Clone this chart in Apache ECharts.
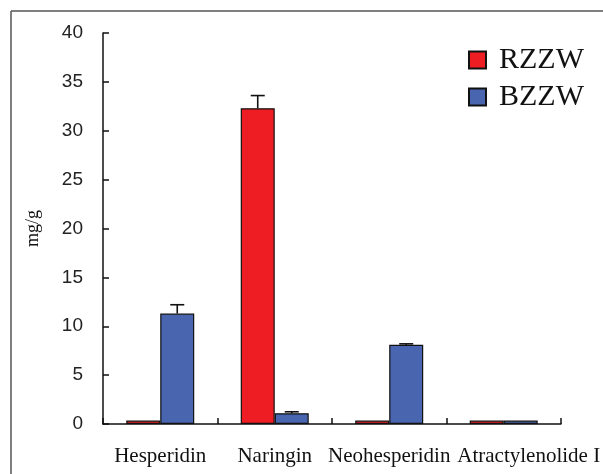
<!DOCTYPE html>
<html>
<head>
<meta charset="utf-8">
<script src="https://cdn.jsdelivr.net/npm/echarts@6/dist/echarts.min.js"></script>
<style>html,body{margin:0;padding:0;background:#fff;}#c{width:603px;height:474px;}</style>
</head>
<body>
<div id="c"></div>
<script>
const categories = ['Hesperidin', 'Naringin', 'Neohesperidin', 'Atractylenolide I'];
const rzzw = [0.35, 32.3, 0.35, 0.35];
const bzzw = [11.3, 1.1, 8.1, 0.35];
const rzzwErr = [0, 1.3, 0, 0];
const bzzwErr = [0.9, 0.15, 0.1, 0];
const yTicks = { min: 0, max: 40, interval: 5 };

const chart = echarts.init(document.getElementById('c'));
const BAR_W = 34;

function errSeries(name, vals, errs, offset) {
  return {
    type: 'custom',
    name: name + ' err',
    z: 5,
    silent: true,
    data: vals.map((v, i) => [i, v, v + errs[i]]),
    renderItem: function (params, api) {
      if (api.value(2) - api.value(1) <= 0) return null;
      const base = api.coord([api.value(0), api.value(1)]);
      const top = api.coord([api.value(0), api.value(2)]);
      const x = base[0] + offset;
      const half = 7;
      const style = { stroke: '#111', lineWidth: 1.6 };
      return {
        type: 'group',
        children: [
          { type: 'line', shape: { x1: x, y1: base[1], x2: x, y2: top[1] }, style: style },
          { type: 'line', shape: { x1: x - half, y1: top[1], x2: x + half, y2: top[1] }, style: style }
        ]
      };
    }
  };
}

chart.setOption({
  animation: false,
  backgroundColor: '#fff',
  grid: { left: 103, right: 41, top: 33, bottom: 50 },
  legend: {
    orient: 'vertical',
    left: 463,
    top: 40,
    icon: 'rect',
    itemWidth: 17,
    itemHeight: 17,
    itemGap: 7,
    data: ['RZZW', 'BZZW'],
    textStyle: { fontFamily: 'Liberation Serif', fontSize: 30, color: '#111', lineHeight: 30, padding: [0, 0, 0, 8] }
  },
  xAxis: {
    type: 'category',
    data: categories.map((c, i) => i === 3 ? { value: c, textStyle: { padding: [0, 0, 0, 50] } } : c),
    axisLine: { lineStyle: { color: '#111', width: 1.5 } },
    axisTick: { show: true, inside: true, length: 6, interval: 0, lineStyle: { color: '#111', width: 1.5 } },
    axisLabel: { interval: 0, hideOverlap: false, fontFamily: 'Liberation Serif', fontSize: 21, color: '#111', margin: 22 }
  },
  yAxis: {
    type: 'value',
    min: yTicks.min, max: yTicks.max, interval: yTicks.interval,
    name: 'mg/g',
    nameLocation: 'middle',
    nameRotate: 90,
    nameGap: 61,
    nameTextStyle: { fontFamily: 'Liberation Serif', fontSize: 18, color: '#111' },
    axisLine: { show: true, lineStyle: { color: '#111', width: 1.5 } },
    axisTick: { show: true, inside: true, length: 6, lineStyle: { color: '#111', width: 1.5 } },
    splitLine: { show: false },
    axisLabel: { fontFamily: 'Liberation Sans', fontSize: 19, color: '#222', margin: 20 }
  },
  series: [
    { type: 'bar', name: 'RZZW', data: rzzw, barWidth: BAR_W, barGap: '0%',
      itemStyle: { color: '#EE1D24', borderColor: '#111', borderWidth: 1.2 } },
    { type: 'bar', name: 'BZZW', data: bzzw, barWidth: BAR_W, barGap: '0%',
      itemStyle: { color: '#4A65AF', borderColor: '#111', borderWidth: 1.2 } },
    errSeries('RZZW', rzzw, rzzwErr, -BAR_W / 2),
    errSeries('BZZW', bzzw, bzzwErr, BAR_W / 2)
  ],
  graphic: [
    { type: 'line', shape: { x1: 11, y1: 11, x2: 603, y2: 11 }, style: { stroke: '#555', lineWidth: 1.5 } },
    { type: 'line', shape: { x1: 11, y1: 11, x2: 11, y2: 474 }, style: { stroke: '#555', lineWidth: 1.5 } }
  ]
});
</script>
</body>
</html>
